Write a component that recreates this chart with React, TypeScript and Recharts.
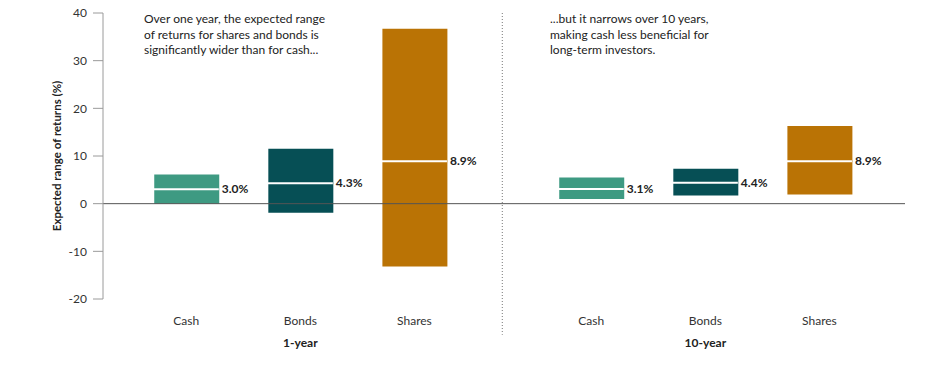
import React from 'react'
import {
  ComposedChart,
  Bar,
  Scatter,
  Cell,
  XAxis,
  YAxis,
  ReferenceLine,
} from 'recharts'

// Expected range of returns, 1-year vs 10-year horizon
const ASSETS = ['Cash', 'Bonds', 'Shares', 'Cash', 'Bonds', 'Shares']
const HORIZONS = ['1-year', '1-year', '1-year', '10-year', '10-year', '10-year']
const X_POS = [1, 2, 3, 4.55, 5.55, 6.55]
const LOWS = [0, -1.9, -13.2, 1.0, 1.7, 1.9]
const HIGHS = [6.1, 11.5, 36.7, 5.5, 7.3, 16.3]
const MEDIANS = [3.0, 4.3, 8.9, 3.1, 4.4, 8.9]
const Y_TICKS = [-20, -10, 0, 10, 20, 30, 40]
const DIVIDER_X = 3.77

const NOTE_1Y = ['Over one year, the expected range', 'of returns for shares and bonds is', 'significantly wider than for cash...']
const NOTE_10Y = ['...but it narrows over 10 years,', 'making cash less beneficial for', 'long-term investors.']

const ASSET_COLORS: Record<string, string> = {
  Cash: '#3e9a82',
  Bonds: '#064f55',
  Shares: '#ba7305',
}

const FONT = 'Lato, "Open Sans", sans-serif'
const BAR_W = 65

const data = ASSETS.map((asset, i) => ({
  asset,
  horizon: HORIZONS[i],
  pos: X_POS[i],
  range: [LOWS[i], HIGHS[i]],
  median: MEDIANS[i],
}))

function XTick(props: any) {
  const { x, y, payload } = props
  const i = X_POS.indexOf(payload.value)
  if (i < 0) return null
  const isMiddle = ASSETS[i] === 'Bonds'
  return (
    <g>
      <text x={x} y={y + 18} textAnchor="middle" fontSize={12} fill="#333" fontFamily={FONT}>
        {ASSETS[i]}
      </text>
      {isMiddle && (
        <text x={x} y={y + 40} textAnchor="middle" fontSize={12} fontWeight={700} fill="#222" fontFamily={FONT}>
          {HORIZONS[i]}
        </text>
      )}
    </g>
  )
}

function MedianMark(props: any) {
  const { cx, cy, payload } = props
  if (cx == null || cy == null) return null
  return (
    <g>
      <line x1={cx - BAR_W / 2} x2={cx + BAR_W / 2} y1={cy} y2={cy} stroke="#fff" strokeWidth={2} />
      <text x={cx + BAR_W / 2 + 3} y={cy + 4} fontSize={12} fontWeight={700} fill="#222" fontFamily={FONT}>
        {payload.median.toFixed(1)}%
      </text>
    </g>
  )
}

function Note({ lines, left }: { lines: string[]; left: number }) {
  return (
    <div
      style={{
        position: 'absolute',
        left,
        top: 11,
        fontFamily: FONT,
        fontSize: 12,
        lineHeight: '15.5px',
        color: '#222',
        whiteSpace: 'nowrap',
      }}
    >
      {lines.map((l) => (
        <div key={l}>{l}</div>
      ))}
    </div>
  )
}

export default function App() {
  return (
    <div style={{ position: 'absolute', left: 0, top: 0, width: 925, height: 365, background: '#fff' }}>
      <ComposedChart width={925} height={365} data={data} margin={{ top: 13, right: 20, bottom: 0, left: 0 }}>
        <XAxis
          dataKey="pos"
          type="number"
          domain={[0.27, 7.3]}
          ticks={X_POS}
          allowDataOverflow
          axisLine={false}
          tickLine={false}
          height={66}
          tick={<XTick />}
          interval={0}
        />
        <YAxis
          type="number"
          domain={[-20, 40]}
          ticks={Y_TICKS}
          width={103}
          tickSize={10}
          tickMargin={6}
          axisLine={{ stroke: '#9a9a9a' }}
          tickLine={{ stroke: '#9a9a9a' }}
          tick={{ fontSize: 12, fill: '#333', fontFamily: FONT }}
          label={{
            value: 'Expected range of returns (%)',
            angle: -90,
            position: 'center',
            dx: 5,
            style: { fontSize: 11.5, fontWeight: 700, fill: '#222', fontFamily: FONT, textAnchor: 'middle' },
          }}
        />
        <Bar dataKey="range" barSize={BAR_W} isAnimationActive={false}>
          {data.map((d, i) => (
            <Cell key={i} fill={ASSET_COLORS[d.asset]} />
          ))}
        </Bar>
        <ReferenceLine y={0} stroke="#555" strokeWidth={1} />
        <ReferenceLine
          segment={[
            { x: DIVIDER_X, y: 40 },
            { x: DIVIDER_X, y: -27.5 },
          ]}
          ifOverflow="visible"
          stroke="#777"
          strokeDasharray="1 2"
        />
        <Scatter dataKey="median" shape={<MedianMark />} isAnimationActive={false} />
      </ComposedChart>
      <Note lines={NOTE_1Y} left={144} />
      <Note lines={NOTE_10Y} left={550} />
    </div>
  )
}
